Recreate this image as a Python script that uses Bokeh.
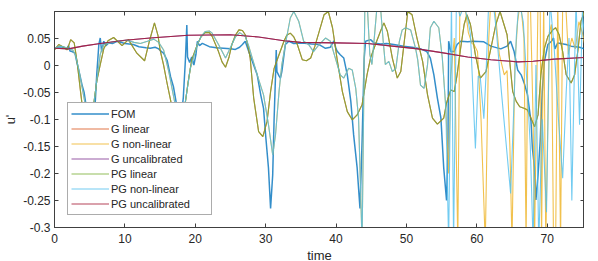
from bokeh.plotting import figure
from bokeh.models import FixedTicker, LinearAxis, Legend, LegendItem, Range1d
from bokeh.embed import file_html
from bokeh.resources import INLINE

# ---------------- data ----------------
fom_t = [0.0, 0.6, 1.3, 1.7, 2.0, 2.2, 2.5, 2.9, 3.2, 3.6, 3.9, 4.2, 4.4, 4.8, 5.3, 5.7, 6.0, 6.3, 6.5, 6.7,
         7.0, 7.3, 7.7, 8.3, 8.9, 10.0, 11.2, 12.0, 13.0, 13.6, 14.3, 14.8, 15.2, 15.5, 16.0, 16.5, 16.9,
         17.3, 17.8, 18.3, 18.6, 18.8, 18.9, 19.2, 19.5, 19.8, 20.1, 20.3, 20.6, 21.0, 22.0, 23.0, 24.0,
         25.0, 25.7, 26.3, 26.7, 27.1, 27.6, 28.1, 28.8, 29.3, 29.7, 30.0, 30.4, 30.7, 31.0, 31.2, 31.4,
         31.5, 31.6, 31.9, 32.1, 32.3, 32.8, 33.3, 34.0, 35.2, 36.5, 37.6, 38.5, 39.2, 39.7, 40.0, 40.2,
         40.6, 41.1, 41.6, 42.1, 42.5, 43.0, 43.4, 43.7, 44.0, 44.2, 44.9, 45.4, 46.3, 47.2, 48.2, 49.6,
         50.8, 52.0, 52.9, 53.4, 53.9, 54.4, 54.9, 55.3, 55.7, 55.9, 56.0, 56.3, 56.8, 57.2, 57.7, 58.7,
         59.5, 61.0, 62.0, 63.4, 64.3, 64.8, 65.3, 65.8, 66.3, 66.8, 67.2, 67.7, 67.9, 68.2, 68.4, 68.7,
         69.0, 69.3, 69.6, 70.1, 70.6, 70.9, 71.1, 71.5, 72.7, 73.4, 74.6, 75.3]
fom_v = [0.031, 0.034, 0.033, 0.030, 0.036, 0.026, 0.025, 0.022, 0.004, -0.018, -0.036, -0.050, -0.067, -0.100,
         -0.120, -0.090, -0.018, 0.038, 0.050, 0.025, 0.044, 0.036, 0.041, 0.040, 0.044, 0.040, 0.038, 0.034,
         0.032, 0.031, 0.033, 0.030, 0.025, 0.022, 0.009, -0.022, -0.040, -0.070, -0.120, -0.060, 0.010, 0.074,
         0.015, 0.005, 0.015, 0.000, 0.020, 0.044, 0.036, 0.040, 0.034, 0.032, 0.031, 0.030, 0.029, 0.033,
         0.038, 0.044, 0.025, 0.007, -0.018, -0.055, -0.080, -0.130, -0.190, -0.265, -0.203, -0.100, -0.020,
         0.028, -0.012, -0.020, -0.024, -0.012, 0.038, 0.044, 0.040, 0.041, 0.039, 0.038, 0.031, 0.033, 0.045,
         0.030, 0.025, 0.019, 0.013, -0.018, -0.067, -0.129, -0.190, -0.265, -0.141, 0.013, 0.044, 0.047,
         0.041, 0.039, 0.040, 0.038, 0.035, 0.033, 0.030, 0.025, 0.013, -0.018, -0.061, -0.098, -0.190,
         -0.250, -0.150, 0.044, 0.025, 0.025, 0.038, 0.044, 0.043, 0.044, 0.043, 0.035, 0.030, 0.035, 0.044,
         0.025, -0.009, -0.018, -0.036, -0.055, -0.104, -0.154, -0.190, -0.249, -0.203, -0.141, -0.049, 0.007,
         0.038, 0.044, 0.050, 0.030, 0.041, 0.038, 0.035, 0.033, 0.030]

lin_t = [0.0, 0.6, 1.3, 1.8, 2.3, 2.8, 3.2, 3.7, 4.1, 4.7, 5.1, 5.5, 6.0, 6.5, 7.0, 7.6, 8.4, 9.6, 10.5, 11.7,
         12.8, 13.5, 14.2, 14.7, 15.0, 15.5, 16.0, 16.5, 17.0, 17.6, 18.2, 18.6, 19.0, 19.5, 20.3, 20.8,
         21.4, 22.0, 22.4, 23.3, 23.8, 24.3, 24.8, 25.2, 25.7, 26.2, 26.7, 27.1, 27.5, 27.8, 28.3, 29.0,
         29.6, 30.2, 30.7, 31.2, 31.9, 32.6, 33.0, 33.5, 34.0, 34.5, 35.2, 35.8, 36.4, 37.0, 37.6, 38.3,
         38.9, 39.5, 40.2, 40.9, 41.6, 42.3, 43.0, 43.7, 44.4, 44.9, 45.6, 46.3, 46.8, 47.3, 48.0, 48.7,
         49.2, 49.7, 50.2, 50.8, 51.5, 52.3, 53.0, 53.7, 54.4, 55.3, 55.7, 56.3, 56.8, 57.2, 57.7, 58.2,
         58.6, 59.1, 59.8, 60.5, 61.3, 62.0, 62.7, 63.3, 64.3, 65.1, 65.6, 66.1, 66.8, 67.2, 67.7, 68.2,
         68.7, 69.1, 69.6, 70.1, 70.8, 71.2, 71.7, 72.2, 72.7, 73.4, 73.9, 74.4, 74.8, 75.3]
lin_v = [0.028, 0.038, 0.033, 0.028, 0.047, 0.041, 0.007, -0.049, -0.092, -0.130, -0.120, -0.080, -0.030,
         0.001, 0.030, 0.045, 0.051, 0.036, 0.047, 0.022, 0.008, 0.045, 0.078, 0.055, 0.028, 0.000, -0.034,
         -0.065, -0.100, -0.130, -0.100, -0.068, -0.030, 0.010, 0.038, 0.052, 0.060, 0.060, 0.053, 0.025,
         0.006, -0.004, 0.015, 0.038, 0.055, 0.065, 0.064, 0.056, 0.035, 0.013, -0.061, -0.123, -0.132,
         -0.104, -0.049, -0.006, 0.019, 0.044, 0.055, 0.059, 0.052, 0.038, 0.010, 0.008, 0.013, 0.035, 0.062,
         0.093, 0.099, 0.069, 0.007, -0.049, -0.086, -0.101, -0.092, -0.073, -0.018, 0.013, 0.038, 0.062,
         0.078, 0.062, 0.013, -0.024, -0.012, 0.044, 0.099, 0.093, 0.050, 0.007, -0.055, -0.098, -0.109,
         -0.098, -0.070, -0.046, -0.049, -0.018, 0.031, 0.075, 0.093, 0.075, 0.019, -0.024, -0.012, 0.031,
         0.075, 0.099, 0.056, -0.049, -0.067, -0.077, -0.080, -0.083, -0.098, -0.114, -0.092, -0.018, 0.031,
         0.053, 0.065, 0.069, 0.056, 0.025, -0.018, -0.033, -0.018, 0.031, 0.081, 0.099]

nl_t = [0.0, 0.7, 1.3, 2.0, 2.6, 3.0, 3.4, 3.9, 4.4, 5.0, 5.5, 6.0, 6.5, 7.0, 8.4, 10.3, 11.3, 12.2, 13.2,
        14.1, 14.8, 15.5, 16.2, 16.8, 17.4, 18.0, 18.6, 19.3, 20.3, 20.8, 21.4, 22.0, 22.4, 23.3, 24.3,
        25.2, 25.7, 26.3, 27.1, 27.6, 28.1, 28.8, 29.7, 30.4, 31.0, 31.4, 31.9, 32.3, 32.8, 33.5, 34.0,
        34.7, 35.4, 36.1, 36.8, 37.6, 38.5, 39.2, 39.9, 40.6, 41.1, 41.8, 42.3, 42.8, 43.2, 43.7, 44.1,
        44.4, 44.8, 45.1, 45.5, 45.9, 46.3, 46.7, 47.0, 47.5, 48.0, 48.5, 49.0, 49.4, 49.9, 50.6, 51.3,
        51.6, 52.0, 52.5, 53.0, 53.4, 53.9, 54.6, 55.1, 55.6]
nl_v = [0.031, 0.035, 0.034, 0.030, 0.028, 0.018, -0.005, -0.040, -0.075, -0.110, -0.080, -0.030, 0.020,
        0.038, 0.043, 0.046, 0.042, 0.040, 0.044, 0.048, 0.042, 0.028, -0.010, -0.050, -0.090, -0.100,
        -0.067, -0.006, 0.038, 0.052, 0.062, 0.063, 0.059, 0.038, 0.013, 0.038, 0.052, 0.060, 0.053, 0.035,
        0.013, -0.018, -0.055, -0.110, -0.166, -0.129, -0.049, 0.001, 0.038, 0.087, 0.099, 0.081, 0.044,
        0.038, 0.025, 0.038, 0.050, 0.044, 0.013, -0.018, -0.024, -0.006, -0.009, -0.043, -0.098, -0.330,
        0.120, 0.120, 0.020, 0.001, 0.060, 0.120, 0.110, 0.044, 0.001, 0.007, -0.012, -0.006, 0.044, 0.065,
        0.069, 0.065, 0.031, 0.010, -0.037, -0.043, 0.001, 0.069, 0.081, 0.069, 0.013, -0.080]

pg_nl_late_t = [56.0, 56.4, 56.7, 57.1, 57.6, 58.2, 58.8, 59.1, 59.8, 60.2, 60.5, 61.0, 61.3, 61.7, 62.3,
                62.8, 63.5, 64.2, 64.8, 65.2, 65.6, 66.0, 66.6, 67.2, 67.6, 68.0, 68.4, 68.8, 69.3, 69.9,
                70.4, 71.0, 71.6, 72.2, 72.7, 73.1, 73.5, 73.8, 74.1, 74.6, 75.0, 75.3]
pg_nl_late_v = [-0.330, 0.120, -0.330, 0.120, 0.090, 0.110, 0.080, 0.056, -0.154, -0.020, -0.024, -0.099,
                -0.020, 0.120, 0.120, 0.060, -0.050, -0.150, -0.237, -0.100, 0.050, 0.120, 0.080, -0.050,
                -0.150, -0.330, 0.000, -0.330, -0.100, -0.272, 0.120, 0.030, -0.100, -0.209, -0.050, 0.050,
                -0.250, -0.050, 0.120, -0.110, 0.100, 0.050]

g_nl_late_t = [56.0, 56.3, 56.8, 57.0, 57.3, 57.6, 58.2, 58.8, 59.3, 59.6, 60.1, 60.6, 61.2, 61.7, 62.0,
               62.6, 63.2, 63.9, 64.3, 64.7, 65.0, 65.4, 65.8, 66.2, 66.7, 67.0, 67.3, 67.6, 68.0, 68.2,
               68.7, 69.0, 69.2, 69.5, 69.8, 70.3, 70.6, 70.9, 71.2, 71.5, 71.9, 72.2, 72.6, 73.0, 73.5,
               74.0, 74.5, 75.0, 75.3]
g_nl_late_v = [-0.200, -0.020, 0.050, -0.100, -0.330, 0.120, 0.120, 0.060, 0.040, 0.038, 0.025, -0.100,
               -0.330, 0.050, 0.120, 0.100, 0.020, -0.018, -0.010, -0.150, -0.330, 0.000, 0.080, 0.120,
               0.050, -0.330, 0.120, 0.120, -0.100, -0.330, 0.120, 0.120, -0.330, 0.120, -0.330, 0.060,
               0.075, -0.330, -0.330, 0.120, -0.330, 0.120, 0.120, 0.020, 0.050, 0.030, 0.080, 0.060, 0.040]

unc_t = [0.0, 2.0, 4.0, 6.5, 10.0, 13.6, 19.0, 25.0, 29.0, 32.6, 35.0, 40.0, 44.5, 48.0, 51.6, 55.0, 58.7,
         62.0, 65.8, 68.0, 71.0, 75.3]
unc_v = [0.031, 0.030, 0.035, 0.040, 0.046, 0.050, 0.055, 0.056, 0.052, 0.045, 0.042, 0.041, 0.040, 0.035,
         0.030, 0.023, 0.015, 0.010, 0.006, 0.007, 0.011, 0.014]

# overlapping series (G ones are drawn underneath their PG counterparts)
g_lin_t, g_lin_v = lin_t, lin_v
g_nl_t, g_nl_v = nl_t + g_nl_late_t, nl_v + g_nl_late_v
pg_nl_t, pg_nl_v = nl_t + pg_nl_late_t, nl_v + pg_nl_late_v
pg_lin_t, pg_lin_v = lin_t, lin_v
g_unc_t, g_unc_v = unc_t, unc_v
pg_unc_t, pg_unc_v = unc_t, unc_v

x_ticks = [0, 10, 20, 30, 40, 50, 60, 70]
y_ticks = [-0.3, -0.25, -0.2, -0.15, -0.1, -0.05, 0, 0.05]
y_tick_labels = ["-0.3", "-0.25", "-0.2", "-0.15", "-0.1", "-0.05", "0", "0.05"]

series = [
    ("FOM", fom_t, fom_v, "#0072BD", 1.5),
    ("G linear", g_lin_t, g_lin_v, "#D95319", 1.1),
    ("G non-linear", g_nl_t, g_nl_v, "#EDB120", 1.1),
    ("G uncalibrated", g_unc_t, g_unc_v, "#7E2F8E", 1.1),
    ("PG linear", pg_lin_t, pg_lin_v, "#77AC30", 1.1),
    ("PG non-linear", pg_nl_t, pg_nl_v, "#4DBEEE", 1.1),
    ("PG uncalibrated", pg_unc_t, pg_unc_v, "#A2142F", 1.1),
]

FONT = "Liberation Sans"
AX = "#404040"

p = figure(frame_width=530, frame_height=216, output_backend="svg", toolbar_location=None,
           x_range=Range1d(0, 75.3), y_range=Range1d(-0.3, 0.099),
           min_border_left=0, min_border_right=0, min_border_top=11, min_border_bottom=0)
p.background_fill_color = "white"
p.border_fill_color = "white"
p.outline_line_color = AX
p.outline_line_width = 1
p.xgrid.visible = False
p.ygrid.visible = False

items = []
for name, t, v, col, lw in series:
    r = p.line(t, v, line_color=col, line_width=lw, line_alpha=0.8)
    items.append(LegendItem(label=name, renderers=[r]))

xa = p.xaxis[0]
ya = p.yaxis[0]
xa.ticker = FixedTicker(ticks=x_ticks)
ya.ticker = FixedTicker(ticks=y_ticks)
ya.major_label_overrides = {t: s for t, s in zip(y_ticks, y_tick_labels)}
for ax in (xa, ya):
    ax.axis_line_color = AX
    ax.major_tick_line_color = AX
    ax.major_tick_in = 4
    ax.major_tick_out = 0
    ax.minor_tick_line_color = None
    ax.major_label_text_font = FONT
    ax.major_label_text_font_size = "12px"
    ax.major_label_text_color = "#262626"
    ax.axis_label_text_font = FONT
    ax.axis_label_text_font_size = "13px"
    ax.axis_label_text_font_style = "normal"
    ax.axis_label_text_color = "#262626"
xa.axis_label = "time"
ya.axis_label = "u'"
xa.major_label_standoff = 6
ya.major_label_standoff = 4
xa.axis_label_standoff = 2
ya.axis_label_standoff = 2

for loc, tk in (("above", x_ticks), ("right", y_ticks)):
    ax = LinearAxis(ticker=FixedTicker(ticks=tk))
    ax.axis_line_color = AX
    ax.major_tick_line_color = AX
    ax.major_tick_in = 4
    ax.major_tick_out = 0
    ax.minor_tick_line_color = None
    ax.major_label_text_color = None
    ax.major_label_text_font_size = "1px"
    ax.major_label_standoff = 0
    p.add_layout(ax, loc)

legend = Legend(items=items, location=(13, 12))
legend.label_text_font = FONT
legend.label_text_font_size = "11px"
legend.label_text_color = "#262626"
legend.glyph_width = 38
legend.glyph_height = 15
legend.label_height = 15
legend.label_width = 97
legend.label_standoff = 2
legend.spacing = 0
legend.padding = 3
legend.margin = 0
legend.border_line_color = "#5a5a5a"
legend.border_line_width = 1
legend.background_fill_color = "white"
legend.background_fill_alpha = 1.0
p.add_layout(legend, "center")

open("out.html", "w").write(file_html(p, INLINE))
